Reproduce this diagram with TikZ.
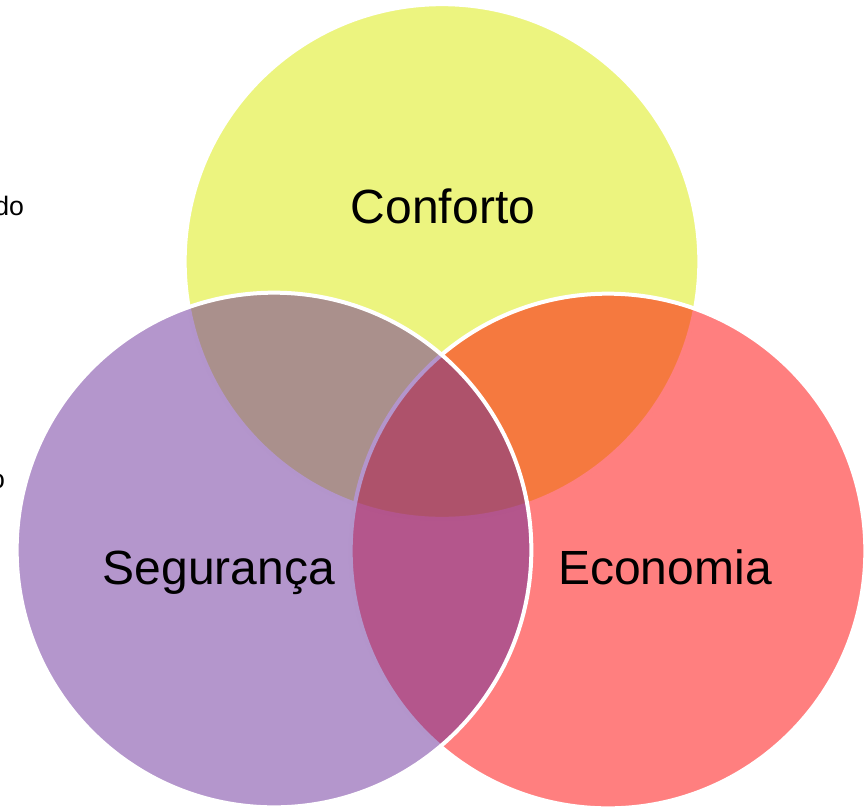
\documentclass[tikz,border=0pt]{standalone}
\usepackage{fontspec}
\setmainfont{Liberation Sans}
\definecolor{confortoYellow}{RGB}{217,233,0}
\definecolor{economiaRed}{RGB}{255,0,0}
\definecolor{segurancaPurple}{RGB}{105,45,153}
\tikzset{every picture/.style={line width=0.75pt}}
\tikzset{venn/.style={circle, draw=white, line width=3pt, fill opacity=0.5, minimum size=386pt, inner sep=0pt}}
\begin{document}
\begin{tikzpicture}[x=0.75pt,y=0.75pt,yscale=-1,xscale=1]
\useasboundingbox (0,0) rectangle (864,808);

% Circles
\node [venn, fill=confortoYellow] (conforto) at (442,261.5) {};
\node [venn, fill=economiaRed] (economia) at (608,551) {};
\node [venn, fill=segurancaPurple] (seguranca) at (274,550) {};
% Text Node
\node [anchor=base, inner sep=0pt, font=\fontsize{36}{43}\selectfont] (confortoText) at (443,223) {Conforto};
\node [anchor=base, inner sep=0pt, font=\fontsize{36}{43}\selectfont] (segurancaText) at (219,584) {Segurança};
\node [anchor=base, inner sep=0pt, font=\fontsize{36}{43}\selectfont] (economiaText) at (665,584) {Economia};
% Text Node
\node [anchor=base east, inner sep=0pt, font=\fontsize{20}{24}\selectfont] (doText) at (24.5,215) {do};
\node [anchor=base east, inner sep=0pt, font=\fontsize{20}{24}\selectfont] (oText) at (5.5,488) {o};

\end{tikzpicture}
\end{document}
